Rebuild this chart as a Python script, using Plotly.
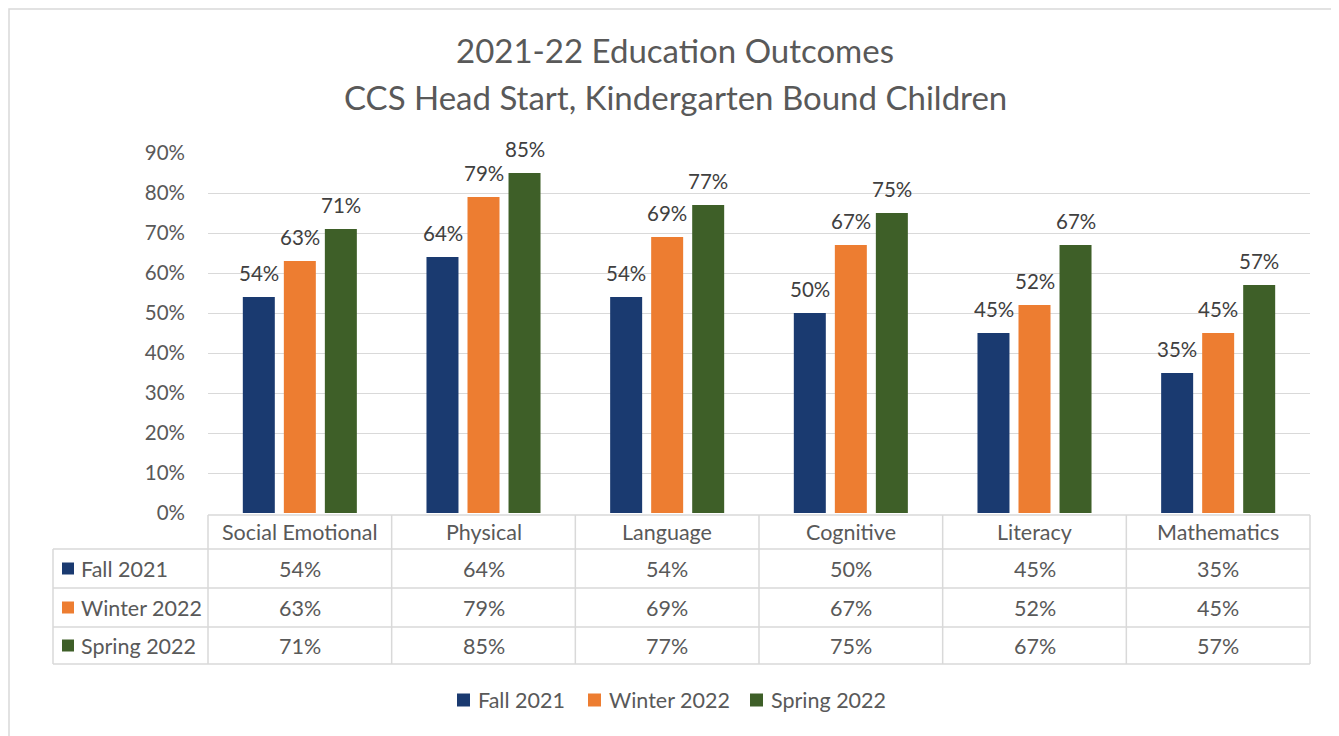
import plotly.graph_objects as go

categories = ["Social Emotional", "Physical", "Language", "Cognitive", "Literacy", "Mathematics"]
series_names = ["Fall 2021", "Winter 2022", "Spring 2022"]
fall_2021 = [54, 64, 54, 50, 45, 35]
winter_2022 = [63, 79, 69, 67, 52, 45]
spring_2022 = [71, 85, 77, 75, 67, 57]
y_ticks = [0, 10, 20, 30, 40, 50, 60, 70, 80, 90]

series_values = [fall_2021, winter_2022, spring_2022]
colors = ["#1a3a70", "#ed7d31", "#3e5f28"]
FONT = "Lato, 'Open Sans', sans-serif"
TXT = "#595959"
LBL = "#404040"

# Page has an 8px body margin; figure is sized to fit the window exactly.
OFF = 8
W, H = 1339 - OFF, 736 - OFF
# plot area in screen pixels
SL, SR, ST, SB = 208, 1310, 153, 513


def px2x(sx):
    return (sx - SL) / (SR - SL)


def py2y(sy):
    return (SB - sy) / (SB - ST)


fig = go.Figure()
for name, vals, col in zip(series_names, series_values, colors):
    fig.add_trace(go.Bar(
        x=categories, y=[v / 100 for v in vals], name=name,
        marker=dict(color=col, line=dict(width=0)),
        showlegend=False,
    ))

shapes = []
annotations = []
grid = "#d9d9d9"

# Data labels above bars
slot = 41
for i, vals in enumerate(series_values):
    for c, v in zip(categories, vals):
        annotations.append(dict(x=c, xref="x", y=v / 100, yref="y",
                                text=f"{v}%", showarrow=False,
                                xshift=(i - 1) * slot, yshift=24,
                                xanchor="center", yanchor="middle",
                                font=dict(family=FONT, size=20.5, color=LBL)))

# Outer border
shapes.append(dict(type="rect", xref="paper", yref="paper",
                   x0=px2x(9), x1=px2x(1338), y0=py2y(9), y1=py2y(760),
                   line=dict(color="#d9d9d9", width=1.5), layer="below"))

# Table lines
row_lines = [549, 588, 627, 664]
shapes.append(dict(type="line", xref="paper", yref="paper",
                   x0=px2x(SL), x1=px2x(SR), y0=py2y(515), y1=py2y(515),
                   line=dict(color=grid, width=1.5)))
for ry in row_lines:
    shapes.append(dict(type="line", xref="paper", yref="paper",
                       x0=px2x(53), x1=px2x(SR), y0=py2y(ry), y1=py2y(ry),
                       line=dict(color=grid, width=1.5)))
ncat = len(categories)
for k in range(ncat + 1):
    xp = SL + (SR - SL) * k / ncat
    shapes.append(dict(type="line", xref="paper", yref="paper",
                       x0=px2x(xp), x1=px2x(xp), y0=py2y(515), y1=py2y(664),
                       line=dict(color=grid, width=1.5)))
shapes.append(dict(type="line", xref="paper", yref="paper",
                   x0=px2x(53), x1=px2x(53), y0=py2y(549), y1=py2y(664),
                   line=dict(color=grid, width=1.5)))

TF = 21.5
# Header category labels
for c in categories:
    annotations.append(dict(x=c, xref="x", y=py2y(532), yref="paper",
                            text=c, showarrow=False, xanchor="center", yanchor="middle",
                            font=dict(family=FONT, size=TF, color=TXT)))

row_centers = [568.5, 607.5, 645.5]
for name, vals, col, rc in zip(series_names, series_values, colors, row_centers):
    shapes.append(dict(type="rect", xref="paper", yref="paper",
                       x0=px2x(62), x1=px2x(74), y0=py2y(rc - 6), y1=py2y(rc + 6),
                       fillcolor=col, line=dict(width=0)))
    annotations.append(dict(x=px2x(79), xref="paper", y=py2y(rc), yref="paper",
                            text=name, showarrow=False, xanchor="left", yanchor="middle",
                            font=dict(family=FONT, size=TF, color=TXT)))
    for c, v in zip(categories, vals):
        annotations.append(dict(x=c, xref="x", y=py2y(rc), yref="paper",
                                text=f"{v}%", showarrow=False,
                                xanchor="center", yanchor="middle",
                                font=dict(family=FONT, size=TF, color=TXT)))

# Bottom legend
legend_sq = [457, 588, 750]
for name, col, sx in zip(series_names, colors, legend_sq):
    shapes.append(dict(type="rect", xref="paper", yref="paper",
                       x0=px2x(sx), x1=px2x(sx + 13), y0=py2y(700 - 6.5), y1=py2y(700 + 6.5),
                       fillcolor=col, line=dict(width=0)))
    annotations.append(dict(x=px2x(sx + 19), xref="paper", y=py2y(700), yref="paper",
                            text=name, showarrow=False, xanchor="left", yanchor="middle",
                            font=dict(family=FONT, size=TF, color=TXT)))

# Title lines
annotations.append(dict(x=px2x(675), xref="paper", y=py2y(50), yref="paper",
                        text="2021-22 Education Outcomes", showarrow=False,
                        xanchor="center", yanchor="middle",
                        font=dict(family=FONT, size=33, color=TXT)))
annotations.append(dict(x=px2x(675), xref="paper", y=py2y(97), yref="paper",
                        text="CCS Head Start, Kindergarten Bound Children", showarrow=False,
                        xanchor="center", yanchor="middle",
                        font=dict(family=FONT, size=33, color=TXT)))

fig.update_layout(
    width=W, height=H,
    margin=dict(l=SL - OFF, r=W - (SR - OFF), t=ST - OFF, b=H - (SB - OFF), pad=0),
    paper_bgcolor="white", plot_bgcolor="white",
    barmode="group", bargap=0.33, bargroupgap=0.22,
    shapes=shapes, annotations=annotations,
    showlegend=False,
    font=dict(family=FONT, color=TXT),
)
fig.update_xaxes(showticklabels=False, showgrid=False, zeroline=False,
                 showline=False, ticks="")
fig.update_yaxes(range=[0, 0.9], tickvals=[t / 100 for t in y_ticks],
                 ticktext=[f"{t}%" for t in y_ticks],
                 showgrid=True, gridcolor=grid, gridwidth=1.3,
                 zeroline=False, showline=False, ticks="",
                 tickfont=dict(family=FONT, size=20.5, color=TXT),
                 ticklabelstandoff=22)

fig.write_html("out.html")
